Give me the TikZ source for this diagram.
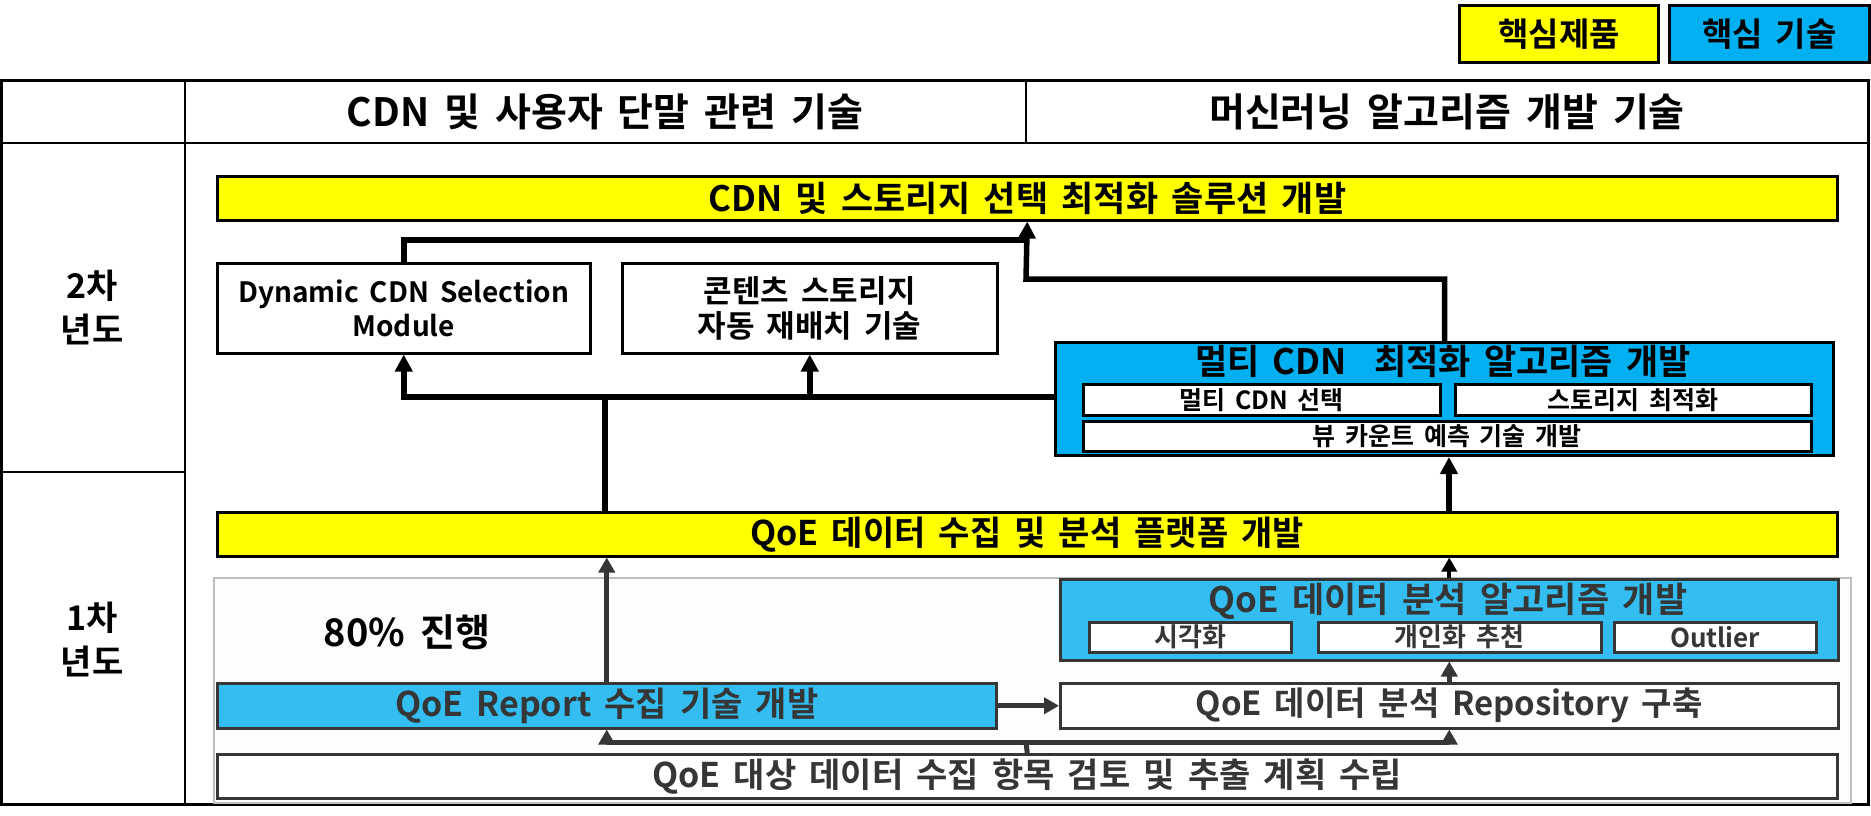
\documentclass[tikz,border=0pt]{standalone}
\usepackage{fontspec}
\setmainfont{Noto Sans CJK KR}[BoldFont={Noto Sans CJK KR Bold}, WordSpace=1.7]
\usetikzlibrary{arrows.meta}
\definecolor{ylw}{HTML}{FFFF00}
\definecolor{blu}{HTML}{00B0F0}
\definecolor{lblu}{HTML}{33BDF0}
\definecolor{dg}{HTML}{363636}
\definecolor{lgrey}{HTML}{BFBFBF}
\definecolor{regfill}{HTML}{FDFDFD}
\newcommand\fsz[2]{\fontsize{#1}{#2}\selectfont}
\begin{document}
\begin{tikzpicture}[x=1pt,y=-1pt,
  box/.style={draw=black, line width=2.5pt, inner sep=0pt, anchor=north west, align=center},
  txt/.style={inner sep=0pt, align=center, font=\bfseries\fsz{34}{40}},
  blk/.style={line width=5.5pt, line join=miter},
  arr/.style={line width=5.5pt, line join=miter, -{Triangle[length=17pt,width=17pt]}},
  sarr/.style={line width=4pt, -{Triangle[length=14pt,width=15pt]}},
  garr/.style={draw=dg, line width=5pt, line join=miter, -{Triangle[length=15pt,width=16pt]}},
  gline/.style={draw=dg, line width=5pt},
  tline/.style={line width=2.5pt}
]
\useasboundingbox (0,0) rectangle (1871,816);

% legend
\node[box, fill=ylw, line width=3pt, minimum width=199pt, minimum height=57pt, font=\bfseries\fsz{33}{38}] (legp) at (1458,4) {핵심제품};
\node[box, fill=blu, line width=3pt, minimum width=200pt, minimum height=57pt, font=\bfseries\fsz{33}{38}] (legt) at (1668,4) {핵심 기술};

% table
\draw[line width=3pt] (1,80) rectangle (1868,804);
\draw[tline] (1,143) -- (1868,143);
\draw[tline] (185,80) -- (185,804);
\draw[tline] (1026,80) -- (1026,143);
\draw[tline] (1,472) -- (185,472);
\node[txt, font=\bfseries\fsz{39}{46}] (h1) at (605,112) {CDN 및 사용자 단말 관련 기술};
\node[txt, font=\bfseries\fsz{39}{46}] (h2) at (1447,112) {머신러닝 알고리즘 개발 기술};
\node[txt, font=\bfseries\fsz{34}{44}] (y2) at (92,308) {2차\\년도};
\node[txt, font=\bfseries\fsz{34}{44}] (y1) at (92,640) {1차\\년도};

% first-year region
\draw[draw=lgrey, fill=regfill, line width=2pt] (214,578) rectangle (1851,803);

% second-year boxes
\node[box, fill=ylw, minimum width=1620pt, minimum height=44pt, font=\bfseries\fsz{35}{40}] (top) at (216,175) {CDN 및 스토리지 선택 최적화 솔루션 개발};
\node[box, fill=white, minimum width=373pt, minimum height=90pt, font=\bfseries\fsz{28}{34}] (dyn) at (216,262) {Dynamic CDN Selection\\Module};
\node[box, fill=white, minimum width=375pt, minimum height=90pt, font=\bfseries\fsz{31}{35}] (con) at (621,262) {콘텐츠 스토리지\\자동 재배치 기술};
\node[box, fill=blu, line width=3pt, minimum width=778pt, minimum height=113pt] (multi) at (1054,341) {};
\node[txt, font=\bfseries\fsz{35}{40}] (multit) at (1443,361) {멀티 CDN \ 최적화 알고리즘 개발};
\node[box, fill=white, minimum width=357pt, minimum height=31pt, font=\bfseries\fsz{25}{30}] (m1) at (1082,383) {멀티 CDN 선택};
\node[box, fill=white, minimum width=356pt, minimum height=31pt, font=\bfseries\fsz{25}{30}] (m2) at (1454,383) {스토리지 최적화};
\node[box, fill=white, minimum width=728pt, minimum height=30pt, font=\bfseries\fsz{25}{30}] (m3) at (1082,420) {뷰 카운트 예측 기술 개발};

\node[box, fill=ylw, minimum width=1620pt, minimum height=44pt, font=\bfseries\fsz{34}{40}] (q2) at (216,511) {QoE 데이터 수집 및 분석 플랫폼 개발};

% first-year boxes
\node[txt, font=\bfseries\fsz{38}{44}] (pct) at (407,632) {80\% 진행};
\node[box, draw=dg, fill=lblu, minimum width=778pt, minimum height=81pt] (ana) at (1059,578) {};
\node[txt, text=dg, font=\bfseries\fsz{35}{40}] (anat) at (1448,601) {QoE 데이터 분석 알고리즘 개발};
\node[box, draw=dg, text=dg, fill=white, minimum width=202pt, minimum height=30pt, font=\bfseries\fsz{26}{30}] (s1) at (1088,621) {시각화};
\node[box, draw=dg, text=dg, fill=white, minimum width=283pt, minimum height=30pt, font=\bfseries\fsz{26}{30}] (s2) at (1317,621) {개인화 추천};
\node[box, draw=dg, text=dg, fill=white, minimum width=202pt, minimum height=30pt, font=\bfseries\fsz{26}{30}] (s3) at (1613,621) {Outlier};
\node[box, draw=dg, text=dg, fill=lblu, minimum width=779pt, minimum height=45pt, font=\bfseries\fsz{34}{40}] (report) at (216,682) {QoE Report 수집 기술 개발};
\node[box, draw=dg, text=dg, fill=white, minimum width=778pt, minimum height=45pt, font=\bfseries\fsz{33}{40}] (repo) at (1059,682) {QoE 데이터 분석 Repository 구축};
\node[box, draw=dg, text=dg, fill=white, minimum width=1620pt, minimum height=44pt, font=\bfseries\fsz{34}{40}] (bot) at (216,753) {QoE 대상 데이터 수집 항목 검토 및 추출 계획 수립};

% connectors, second year
\coordinate (j1) at (1026,240);
\coordinate (k1) at (1026,279);
\coordinate (h) at (605,397);
\coordinate (ax) at (1449,0);
\draw[blk] (dyn.north) |- (j1);
\draw[arr] (multi.north) |- (k1) -- (top.south);
\draw[blk] (q2.north -| h) -- (h);
\draw[arr] (multi.west |- h) -| (dyn.south);
\draw[arr] (h -| con.south) -- (con.south);
\draw[arr] (q2.north -| ax) -- (multi.south -| ax);

% connectors, first year
\coordinate (f) at (1026,742);
\draw[garr] (report.north) -- (q2.south -| report.north);
\draw[sarr] (ana.north) -- (q2.south -| ana.north);
\draw[garr] (repo.north) -- (ana.south);
\draw[garr] (report.east) -- (repo.west);
\draw[gline] (bot.north) -- (f);
\draw[garr] (f) -| (report.south);
\draw[garr] (f) -| (repo.south);
\end{tikzpicture}
\end{document}
